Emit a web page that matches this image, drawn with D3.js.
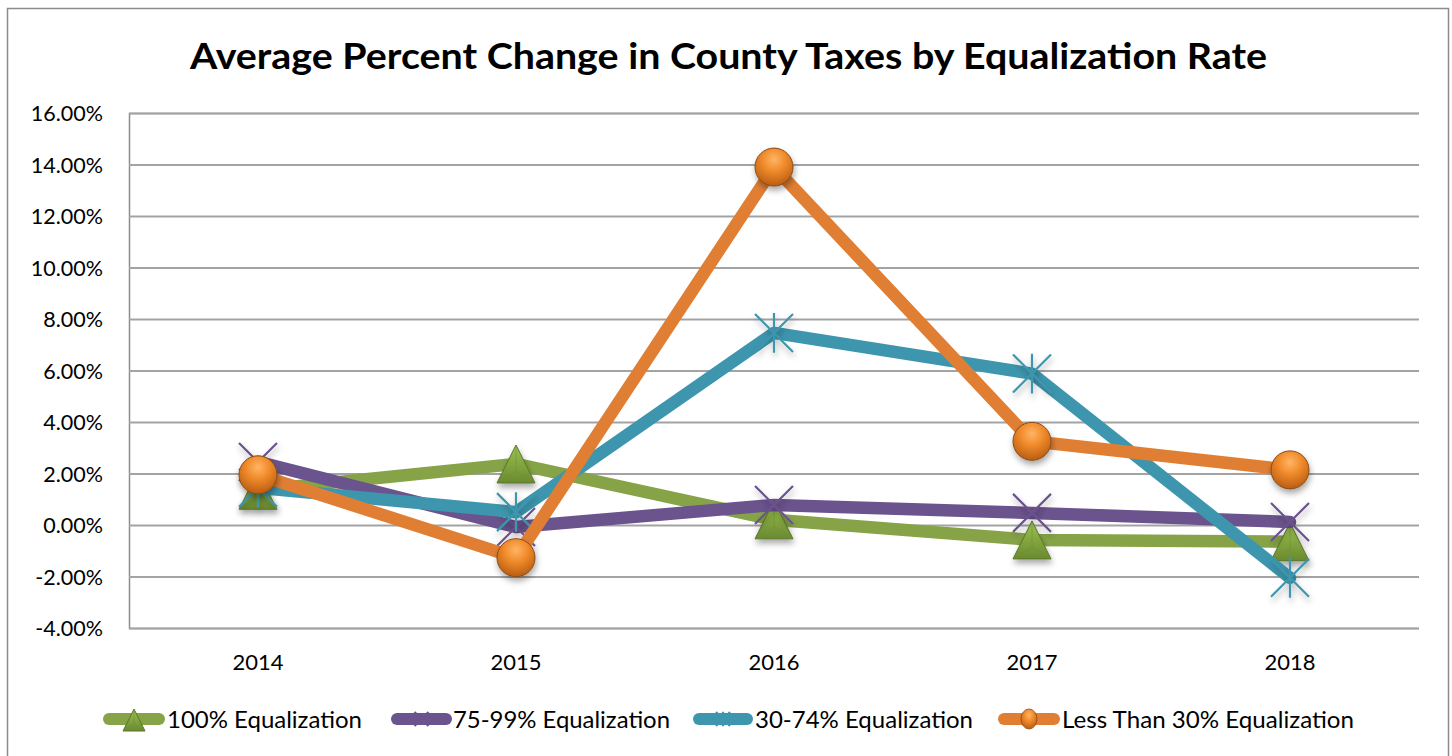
<!DOCTYPE html>
<html><head><meta charset="utf-8">
<script src="https://cdn.jsdelivr.net/npm/d3@7"></script>
<style>body{margin:0;background:#fff}svg{display:block}</style>
</head><body><svg id="c" width="1452" height="756"></svg>
<script>
const years = ["2014","2015","2016","2017","2018"];
const s100 = [1.35, 2.37, 0.2, -0.58, -0.65];
const s75 = [2.45, -0.08, 0.78, 0.47, 0.12];
const s30 = [1.45, 0.5, 7.46, 5.88, -2.05];
const sLess = [1.95, -1.27, 13.9, 3.25, 2.14];
const yTicks = [-4,-2,0,2,4,6,8,10,12,14,16];
const seriesNames = ["100% Equalization","75-99% Equalization","30-74% Equalization","Less Than 30% Equalization"];
const seriesColors = ["#86a447","#6b538d","#3d96ae","#e07f34"];
const seriesMarkers = ["triangle","x","star","circle"];
const seriesData = [s100, s75, s30, sLess];

const FONT = "Lato, 'Open Sans', sans-serif";
const svg = d3.select("#c");
const defs = svg.append("defs");
const sh = defs.append("filter").attr("id","sh").attr("x","-50%").attr("y","-50%").attr("width","200%").attr("height","200%");
sh.append("feDropShadow").attr("dx",1).attr("dy",4).attr("stdDeviation",3).attr("flood-color","#000").attr("flood-opacity",0.35);
const rg = defs.append("radialGradient").attr("id","og").attr("cx","50%").attr("cy","30%").attr("r","70%");
rg.append("stop").attr("offset","0%").attr("stop-color","#ffb565");
rg.append("stop").attr("offset","45%").attr("stop-color","#f08a2a");
rg.append("stop").attr("offset","100%").attr("stop-color","#b85d14");
const tg = defs.append("linearGradient").attr("id","tg").attr("x1","0").attr("y1","0").attr("x2","0").attr("y2","1");
tg.append("stop").attr("offset","0%").attr("stop-color","#9cc24f");
tg.append("stop").attr("offset","100%").attr("stop-color","#6a8a30");

// border
svg.append("rect").attr("x",7.5).attr("y",8.5).attr("width",1441).attr("height",760).attr("fill","none").attr("stroke","#8c8c8c").attr("stroke-width",1.5);

const x = d3.scaleBand().domain(years).range([129,1419]);
const y = d3.scaleLinear().domain([-4,16]).range([628,113]);
const cx = d => x(d) + x.bandwidth()/2;

// title
const title = svg.append("text").attr("x",728.5).attr("y",69).attr("text-anchor","middle")
  .attr("font-family",FONT).attr("font-weight","bold").attr("font-size",36).attr("fill","#000")
  .text("Average Percent Change in County Taxes by Equalization Rate");
const tw = title.node().getComputedTextLength();
title.attr("textLength",1077).attr("lengthAdjust","spacingAndGlyphs");

// grid
const yAxis = d3.axisLeft(y).tickValues(yTicks).tickSize(-(1419-129)).tickFormat(d => d.toFixed(2)+"%");
const ga = svg.append("g").attr("transform","translate(129,0)").call(yAxis);
ga.select(".domain").attr("stroke","#8c8c8c").attr("stroke-width",1.5);
ga.selectAll(".tick line").attr("stroke","#a3a3a3").attr("stroke-width",2);
ga.selectAll(".tick text").attr("x",-26).attr("dy","0.36em").attr("font-family",FONT).attr("font-size",21.5).attr("fill","#000");

const xAxis = d3.axisBottom(x).tickSize(0).tickPadding(0);
const gx = svg.append("g").attr("transform","translate(0,628)").call(xAxis);
gx.select(".domain").remove();
gx.selectAll(".tick text").attr("dy",0).attr("y",42).attr("font-family",FONT).attr("font-size",22).attr("fill","#000");

function drawMarker(g, type, color, size){
  if(type==="triangle"){
    const h = size, w = size;
    g.append("path").attr("d",`M0,${-h/2}L${w/2},${h/2}L${-w/2},${h/2}Z`).attr("fill","url(#tg)").attr("stroke","#5a7628").attr("stroke-width",1);
    g.append("path").attr("d",`M0,${-h/2}L0,${h*0.2}L${w/2},${h/2}M0,${h*0.2}L${-w/2},${h/2}`).attr("fill","none").attr("stroke","#6f8f35").attr("stroke-width",1).attr("opacity",0.6);
  } else if(type==="x"){
    const r = size/2;
    g.append("path").attr("d",`M${-r},${-r}L${r},${r}M${r},${-r}L${-r},${r}`).attr("stroke",color).attr("stroke-width",2.2);
  } else if(type==="star"){
    const r = size/2;
    g.append("path").attr("d",`M${-r},${-r}L${r},${r}M${r},${-r}L${-r},${r}M0,${-r*1.05}L0,${r*1.05}`).attr("stroke",color).attr("stroke-width",2.2);
  } else {
    g.append("circle").attr("r",size/2).attr("fill","url(#og)").attr("stroke","#8a4a14").attr("stroke-width",1);
  }
}

const line = d3.line().x((d,i)=>cx(years[i])).y(d=>y(d));
seriesData.forEach((data,si)=>{
  const g = svg.append("g");
  g.append("path").datum(data).attr("d",line).attr("fill","none").attr("stroke",seriesColors[si])
    .attr("stroke-width",12.5).attr("stroke-linejoin","round").attr("stroke-linecap","round");
  data.forEach((v,i)=>{
    const mg = g.append("g").attr("transform",`translate(${cx(years[i])},${y(v)})`).attr("filter","url(#sh)");
    drawMarker(mg, seriesMarkers[si], seriesColors[si], 38);
  });
});

// legend
const legendLine = [[103,165],[391,452],[693,753],[998,1060]];
const legendText = [[167,362],[453,670],[755,973],[1062,1354]];
seriesNames.forEach((n,i)=>{
  const g = svg.append("g");
  const [x0,x1] = legendLine[i];
  g.append("line").attr("x1",x0+6).attr("x2",x1-6).attr("y1",719).attr("y2",719).attr("stroke",seriesColors[i]).attr("stroke-width",12).attr("stroke-linecap","round");
  const mg = g.append("g").attr("transform",`translate(${(x0+x1)/2},719)`);
  if(seriesMarkers[i]==="circle"){
    mg.append("ellipse").attr("rx",8).attr("ry",10).attr("fill","url(#og)").attr("stroke","#8a4a14").attr("stroke-width",0.8);
  } else if(seriesMarkers[i]==="triangle"){
    mg.attr("transform",`translate(${(x0+x1)/2},720)`);
    drawMarker(mg, "triangle", seriesColors[i], 22);
  } else drawMarker(mg, seriesMarkers[i], seriesColors[i], 14);
  g.append("text").attr("x",legendText[i][0]).attr("y",728).attr("font-family",FONT).attr("font-size",24).attr("fill","#000")
    .attr("textLength",legendText[i][1]-legendText[i][0]).attr("lengthAdjust","spacingAndGlyphs").text(n);
});
</script></body></html>
